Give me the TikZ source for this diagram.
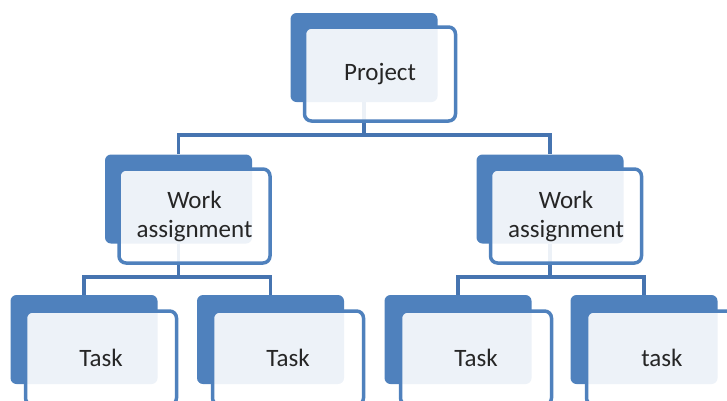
\documentclass[tikz,border=0pt]{standalone}
\usepackage{fontspec}
\setmainfont{Carlito}
\definecolor{boxblue}{HTML}{4F81BD}
\definecolor{linkblue}{HTML}{4674B0}
\begin{document}
\begin{tikzpicture}[x=1pt,y=-1pt]
\tikzset{backbox/.style={fill=boxblue, rounded corners=6pt, inner sep=0pt, minimum width=147pt, minimum height=89pt}}
\tikzset{frontbox/.style={draw=boxblue, line width=3.5pt, fill=white, fill opacity=0.9, text opacity=1, rounded corners=7pt, inner sep=0pt, minimum width=151pt, minimum height=94pt, align=center, text=black!85, font=\fontsize{25}{29}\selectfont}}
\tikzset{link/.style={draw=linkblue, line width=3.5pt}}
\clip (0,0) rectangle (727,400);
% back boxes
\node [backbox] (pb) at (364,57.5) {};
\node [backbox] (wb1) at (178.5,199) {};
\node [backbox] (wb2) at (550,199) {};
\node [backbox] (tb1) at (84,339.5) {};
\node [backbox] (tb2) at (270.5,339.5) {};
\node [backbox] (tb3) at (458,339.5) {};
\node [backbox] (tb4) at (644,339.5) {};
% connectors
\draw [link] (pb.south) -- ++(0,33) -| (wb1.north);
\draw [link] (pb.south) -- ++(0,33) -| (wb2.north);
\draw [link] (wb1.south) -- ++(0,33.5) -| (tb1.north);
\draw [link] (wb1.south) -- ++(0,33.5) -| (tb2.north);
\draw [link] (wb2.south) -- ++(0,33.5) -| (tb3.north);
\draw [link] (wb2.south) -- ++(0,33.5) -| (tb4.north);
% front boxes
\node [frontbox] (p) at (380,74) {Project};
\node [frontbox] (w1) at (194.5,216) {Work\\assignment};
\node [frontbox] (w2) at (566,216) {Work\\assignment};
\node [frontbox] (t1) at (101,358) {Task};
\node [frontbox] (t2) at (288,358) {Task};
\node [frontbox] (t3) at (476,358) {Task};
\node [frontbox] (t4) at (662,358) {task};
\end{tikzpicture}
\end{document}
